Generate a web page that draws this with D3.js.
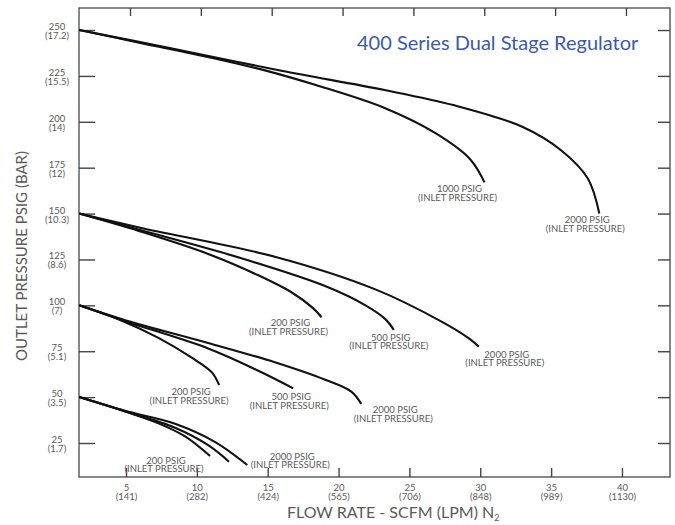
<!DOCTYPE html>
<html>
<head>
<meta charset="utf-8">
<script src="https://cdn.jsdelivr.net/npm/d3@7"></script>
<style>
  body { margin: 0; background: #fff; }
  text { font-family: Lato, "Open Sans", sans-serif; fill: #5a5a5a; }
</style>
</head>
<body>
<div id="chart"></div>
<script>
// axis ticks
const xTicks = [5, 10, 15, 20, 25, 30, 35, 40];
const xTickLpm = ["(141)", "(282)", "(424)", "(565)", "(706)", "(848)", "(989)", "(1130)"];
const yTicks = [25, 50, 75, 100, 125, 150, 175, 200, 225, 250];
const yTickBar = ["(1.7)", "(3.5)", "(5.1)", "(7)", "(8.6)", "(10.3)", "(12)", "(14)", "(15.5)", "(17.2)"];

// curves: [flow scfm, outlet psig]
const out250_1000 = [[1.7, 250], [6, 243], [11.1, 234.8], [15, 227.6], [18.4, 220], [23.25, 207.5], [26.9, 193.5], [29.3, 179.5], [30.3, 167]];
const out250_2000 = [[1.7, 250], [8, 240.3], [15.96, 227.8], [23.25, 217.3], [28.1, 209.1], [32.96, 197.3], [35.7, 184.5], [37.6, 169], [38.4, 150]];
const out150_200 = [[1.7, 150], [6, 140.3], [10.8, 128], [14.3, 116.5], [16.7, 107], [18.2, 98.5], [18.8, 93.5]];
const out150_500 = [[1.7, 150], [6, 141], [13.2, 125.5], [19.05, 110.5], [21.9, 100], [23.3, 92.5], [23.9, 86.6]];
const out150_2000 = [[1.7, 150], [6, 142.3], [15.5, 126.5], [22.6, 108.7], [27.3, 91], [29.2, 82], [29.9, 77.5]];
const out100_200 = [[1.7, 100], [4.5, 92.3], [7.29, 82.3], [9.64, 71.5], [11.06, 63.5], [11.57, 56.6]];
const out100_500 = [[1.7, 100], [5, 91.2], [10.8, 76.5], [14.3, 64.5], [16.8, 54.8]];
const out100_2000 = [[1.7, 100], [5, 91.8], [10.8, 79.5], [15.5, 69], [19.05, 59.5], [20.9, 53], [21.6, 46.3]];
const out50_200 = [[1.7, 50], [4.93, 42.1], [7.29, 35.7], [9.17, 28.6], [10.93, 17.9]];
const out50_500 = [[1.7, 50], [4.93, 42.3], [8.46, 33.3], [10.8, 23.8], [12.27, 14.8]];
const out50_2000 = [[1.7, 50], [4.93, 42.5], [8.46, 35.5], [11.3, 25.5], [13.56, 13]];

const curves = [out250_1000, out250_2000, out150_200, out150_500, out150_2000,
  out100_200, out100_500, out100_2000, out50_200, out50_500, out50_2000];

// labels: curve, text, offset from curve end (px)
const curveLabels = [
  { c: out250_1000, t: "1000 PSIG", dx: -25, dy: 10 },
  { c: out250_2000, t: "2000 PSIG", dx: -12, dy: 9.5 },
  { c: out150_200, t: "200 PSIG", dx: -31, dy: 9 },
  { c: out150_500, t: "500 PSIG", dx: -3, dy: 11 },
  { c: out150_2000, t: "2000 PSIG", dx: 28, dy: 11 },
  { c: out100_200, t: "200 PSIG", dx: -28, dy: 10 },
  { c: out100_500, t: "500 PSIG", dx: -2, dy: 12 },
  { c: out100_2000, t: "2000 PSIG", dx: 34, dy: 9.5 },
  { c: out50_200, t: "200 PSIG", dx: -44, dy: 7.5 },
  { c: out50_2000, t: "2000 PSIG", dx: 45, dy: -5.5 }
];

const W = 675, H = 525;
const svg = d3.select('#chart').append('svg')
  .attr('width', W).attr('height', H);

const mLeft = 79, mRight = 670, mTop = 8, mBottom = 477;
const x = d3.scaleLinear().domain([1.683, 43.39]).range([mLeft, mRight]);
const y = d3.scaleLinear().domain([6.48, 262]).range([mBottom, mTop]);

// frame
svg.append('rect')
  .attr('x', mLeft).attr('y', mTop)
  .attr('width', mRight - mLeft).attr('height', mBottom - mTop)
  .attr('fill', 'none').attr('stroke', '#555').attr('stroke-width', 1.4);

function styleAxis(g) {
  g.select('.domain').remove();
  g.selectAll('.tick line').attr('stroke', '#444').attr('stroke-width', 1.4);
}

// left ticks (inward) with two-line labels
const yl = svg.append('g')
  .attr('transform', `translate(${mLeft},0)`)
  .call(d3.axisLeft(y).tickValues(yTicks).tickSize(-16).tickFormat(''))
  .call(styleAxis);
yl.selectAll('.tick').append('text')
  .attr('text-anchor', 'middle')
  .attr('font-size', 9.5)
  .each(function (d, i) {
    const t = d3.select(this);
    t.append('tspan').attr('x', -22).attr('y', -0.5).text(d);
    t.append('tspan').attr('x', -22).attr('y', 8.5).text(yTickBar[i]);
  });

// right ticks (inward)
svg.append('g')
  .attr('transform', `translate(${mRight},0)`)
  .call(d3.axisRight(y).tickValues(yTicks).tickSize(-12).tickFormat(''))
  .call(styleAxis);

// bottom ticks (inward) with two-line labels
const xb = svg.append('g')
  .attr('transform', `translate(0,${mBottom})`)
  .call(d3.axisBottom(x).tickValues(xTicks).tickSize(-9).tickFormat(''))
  .call(styleAxis);
xb.selectAll('.tick').append('text')
  .attr('text-anchor', 'middle')
  .attr('font-size', 9.5)
  .each(function (d, i) {
    const t = d3.select(this);
    t.append('tspan').attr('x', 0).attr('y', 14).text(d);
    t.append('tspan').attr('x', 0).attr('y', 23).text(xTickLpm[i]);
  });

// top ticks (inward, drawn slightly offset as in the original)
svg.append('g')
  .attr('transform', `translate(4,${mTop})`)
  .call(d3.axisTop(x).tickValues(xTicks).tickSize(-8).tickFormat(''))
  .call(styleAxis);

// curves
const line = d3.line()
  .x(d => x(d[0]))
  .y(d => y(d[1]))
  .curve(d3.curveCatmullRom.alpha(0.5));

svg.append('g').selectAll('path')
  .data(curves)
  .enter().append('path')
  .attr('d', line)
  .attr('fill', 'none')
  .attr('stroke', '#111')
  .attr('stroke-width', 2.1);

// curve labels
const lab = svg.append('g').selectAll('text')
  .data(curveLabels)
  .enter().append('text')
  .attr('text-anchor', 'middle')
  .attr('font-size', 9.5)
  .attr('fill', '#444');
lab.each(function (d) {
  const end = d.c[d.c.length - 1];
  const cx = x(end[0]) + d.dx, cy = y(end[1]) + d.dy;
  const t = d3.select(this);
  t.append('tspan').attr('x', cx).attr('y', cy).text(d.t);
  t.append('tspan').attr('x', cx - 2).attr('y', cy + 8.5).text('(INLET PRESSURE)');
});

// title
svg.append('text')
  .attr('x', 357).attr('y', 50)
  .attr('font-size', 20)
  .style('fill', '#3b5ba6')
  .text('400 Series Dual Stage Regulator');

// axis titles
const xt = svg.append('text')
  .attr('x', 287).attr('y', 518)
  .attr('font-size', 16)
  .text('FLOW RATE - SCFM (LPM) N');
xt.append('tspan').attr('font-size', 9).attr('dy', 3).text('2');

svg.append('text')
  .attr('transform', 'translate(27,256) rotate(-90)')
  .attr('text-anchor', 'middle')
  .attr('font-size', 15)
  .text('OUTLET PRESSURE PSIG (BAR)');
</script>
</body>
</html>
